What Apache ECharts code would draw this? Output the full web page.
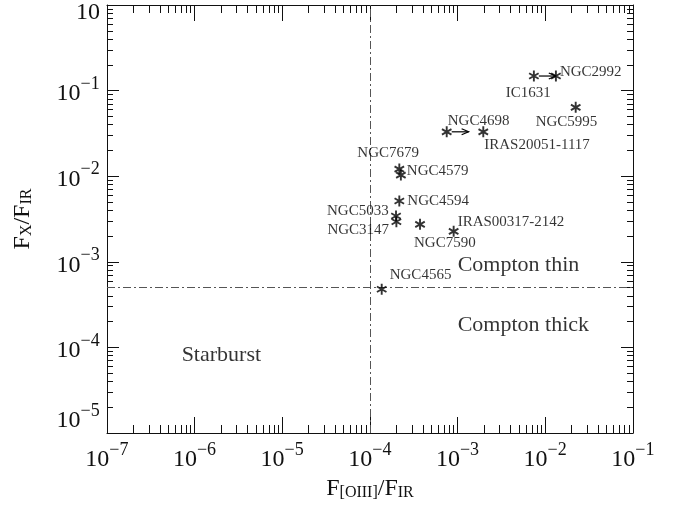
<!DOCTYPE html>
<html>
<head>
<meta charset="utf-8">
<script src="https://cdn.jsdelivr.net/npm/echarts@6/dist/echarts.min.js"></script>
<style>
  html, body { margin: 0; padding: 0; background: #fff; }
  #main { width: 685px; height: 510px; }
</style>
</head>
<body>
<div id="main"></div>
<script>
// objects and their flux ratios
const galaxies = ['NGC2992', 'IC1631', 'NGC5995', 'NGC4698', 'IRAS20051-1117', 'NGC7679', 'NGC4579',
  'NGC4594', 'NGC5033', 'NGC3147', 'NGC7590', 'IRAS00317-2142', 'NGC4565']
const oiiiToIR = [0.0132, 0.0074, 0.0222, 0.00075, 0.00196, 0.000216, 0.000225,
  0.000216, 0.000198, 0.0002, 0.000372, 0.0009, 0.000136]
const xrayToIR = [0.148, 0.148, 0.0638, 0.033, 0.033, 0.0121, 0.0103,
  0.00513, 0.00343, 0.00294, 0.00274, 0.00227, 0.000478]
// lower limits in F[OIII]/F_IR (drawn with an arrow)
const lowerLimits = ['IC1631', 'NGC4698']
// dividing lines
const oiiiCut = 1e-4
const xrayCut = 5e-4
// region captions
const regionNames = ['Compton thin', 'Compton thick', 'Starburst']
const regionX = [1e-3, 1e-3, 7.1e-7]
const regionY = [9.2e-4, 1.83e-4, 8.1e-5]
// decades on the axes (log10)
const xDecades = [-7, -6, -5, -4, -3, -2, -1]
const yDecades = [-5, -4, -3, -2, -1, 0]

// styling
const FONT = "'Liberation Serif', 'DejaVu Serif', serif"
const INK = '#111'
const ARROW_DEX = 0.25
// label offsets in px from the star (left edge of text)
const labelOffset = {
  'NGC2992': [4, -4],
  'IC1631': [-28, 17],
  'NGC5995': [-40, 15],
  'NGC4698': [1, -11],
  'IRAS20051-1117': [1, 13],
  'NGC7679': [-42, -16],
  'NGC4579': [6, -4],
  'NGC4594': [8, 0],
  'NGC5033': [-69, -5],
  'NGC3147': [-69, 8],
  'NGC7590': [-6, 19],
  'IRAS00317-2142': [4, -9],
  'NGC4565': [8, -14]
}

const lg = Math.log10
const minors = (decades) => {
  let out = []
  decades.slice(0, -1).forEach(d => {
    for (let k = 2; k <= 9; k++) out.push(d + lg(k))
  })
  return out
}
const xMinor = minors(xDecades)
const yMinor = minors(yDecades)

const labelRich = {
  b: { fontSize: 24, fontFamily: FONT, color: INK, verticalAlign: 'bottom' },
  s: { fontSize: 18, fontFamily: FONT, color: INK, verticalAlign: 'top' },
  p: { fontSize: 1, lineHeight: 31 },
  t: { fontSize: 24, fontFamily: FONT, color: INK, lineHeight: 16 }
}
const decadeLabel = (v) => {
  let n = Math.round(v)
  if (n === 0) return '{t|10}'
  return '{b|10}{s|\u2212' + Math.abs(n) + '}{p| }'
}
const nameRich = {
  f: { fontSize: 24, fontFamily: FONT, color: INK, verticalAlign: 'top' },
  u: { fontSize: 16, fontFamily: FONT, color: INK, verticalAlign: 'bottom' }
}

const lineStyle = { color: INK, width: 1 }

function axis (pos, min, max, ticks, len, extra) {
  return Object.assign({
    type: 'value',
    position: pos,
    min: min,
    max: max,
    interval: 1,
    axisLine: { show: false, onZero: false, lineStyle: lineStyle },
    axisTick: { show: true, inside: true, length: len, customValues: ticks, lineStyle: lineStyle },
    axisLabel: { show: false },
    splitLine: { show: false },
    minorTick: { show: false }
  }, extra || {})
}

let xMin = xDecades[0]
let xMax = xDecades[xDecades.length - 1]
let yMin = yDecades[0]
let yMax = yDecades[yDecades.length - 1]

let xAxes = [
  axis('bottom', xMin, xMax, xDecades, 16, {
    axisLine: { show: true, onZero: false, lineStyle: lineStyle },
    axisLabel: {
      show: true, margin: 8, formatter: decadeLabel, rich: labelRich,
      showMinLabel: true, showMaxLabel: true
    },
    name: '{f|F}{u|[OIII]}{f|/F}{u|IR}',
    nameLocation: 'middle',
    nameGap: 43,
    nameTextStyle: { rich: nameRich }
  }),
  axis('bottom', xMin, xMax, xMinor, 8),
  axis('top', xMin, xMax, xDecades, 16, {
    axisLine: { show: true, onZero: false, lineStyle: lineStyle }
  }),
  axis('top', xMin, xMax, xMinor, 8)
]
let yAxes = [
  axis('left', yMin, yMax, yDecades, 12, {
    axisLine: { show: true, onZero: false, lineStyle: lineStyle },
    axisLabel: {
      show: true, margin: 7, formatter: decadeLabel, rich: labelRich,
      showMinLabel: true, showMaxLabel: true,
      verticalAlignMinLabel: 'bottom', verticalAlignMaxLabel: 'top'
    },
    name: '{f|F}{u|X}{f|/F}{u|IR}',
    nameLocation: 'middle',
    nameRotate: 90,
    nameGap: 72,
    nameTextStyle: { rich: nameRich }
  }),
  axis('left', yMin, yMax, yMinor, 6),
  axis('right', yMin, yMax, yDecades, 12, {
    axisLine: { show: true, onZero: false, lineStyle: lineStyle }
  }),
  axis('right', yMin, yMax, yMinor, 6)
]

let points = galaxies.map((g, i) => ({
  name: g,
  value: [lg(oiiiToIR[i]), lg(xrayToIR[i])],
  label: { offset: labelOffset[g] }
}))
let limitPoints = lowerLimits.map(g => {
  let i = galaxies.indexOf(g)
  return [lg(oiiiToIR[i]), lg(xrayToIR[i])]
})
let regionPoints = regionNames.map((r, i) => ({ name: r, value: [lg(regionX[i]), lg(regionY[i])] }))

let option = {
  animation: false,
  backgroundColor: '#fff',
  grid: { left: 107, right: 52, top: 5, bottom: 77, containLabel: false, outerBoundsMode: 'none' },
  xAxis: xAxes,
  yAxis: yAxes,
  series: [
    {
      type: 'scatter',
      data: points,
      symbol: 'path://M5,0L5,10M0.67,2.5L9.33,7.5M0.67,7.5L9.33,2.5',
      symbolSize: 11,
      symbolKeepAspect: true,
      itemStyle: { color: 'rgba(0,0,0,0)', borderColor: '#000', borderWidth: 1.9 },
      label: {
        show: true,
        formatter: '{b}',
        position: 'inside',
        align: 'left',
        verticalAlign: 'middle',
        fontFamily: FONT,
        fontSize: 15,
        color: '#000'
      },
      markLine: {
        silent: true,
        symbol: 'none',
        label: { show: false },
        lineStyle: { color: '#555', width: 1, type: [8, 3, 2, 3] },
        data: [{ xAxis: lg(oiiiCut) }, { yAxis: lg(xrayCut) }]
      },
      z: 5
    },
    {
      type: 'custom',
      data: limitPoints,
      clip: false,
      renderItem: function (params, api) {
        let p0 = api.coord([api.value(0), api.value(1)])
        let p1 = api.coord([api.value(0) + ARROW_DEX, api.value(1)])
        let st = { stroke: '#000', fill: null, lineWidth: 1.2 }
        return {
          type: 'group',
          children: [
            { type: 'line', shape: { x1: p0[0] + 5, y1: p0[1], x2: p1[0], y2: p1[1] }, style: st },
            { type: 'polyline', shape: { points: [[p1[0] - 7, p1[1] - 3], [p1[0], p1[1]], [p1[0] - 7, p1[1] + 3]] }, style: st }
          ]
        }
      }
    },
    {
      type: 'scatter',
      data: regionPoints,
      symbolSize: 0,
      silent: true,
      label: {
        show: true,
        formatter: '{b}',
        position: 'inside',
        align: 'left',
        verticalAlign: 'middle',
        fontFamily: FONT,
        fontSize: 22,
        color: '#000'
      }
    }
  ]
}

let chart = echarts.init(document.getElementById('main'), null, { renderer: 'canvas' })
chart.setOption(option)
</script>
</body>
</html>
